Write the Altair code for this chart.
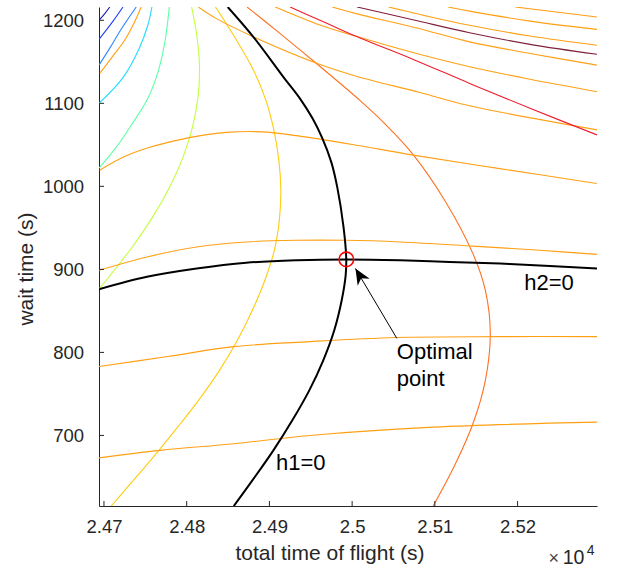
import altair as alt
import pandas as pd

# ---------------- axis ranges / ticks ----------------
x_domain = [24694, 25296]
y_domain = [615, 1216]
x_ticks = [24700, 24800, 24900, 25000, 25100, 25200]
y_ticks = [700, 800, 900, 1000, 1100, 1200]

# ---------------- h1 contour family (near vertical) ----------------
navy_x = [24707, 24701, 24694]
navy_y = [1216, 1208, 1200]
blue1_x = [24723, 24711, 24694]
blue1_y = [1216, 1199, 1177]
blue2_x = [24739, 24720, 24708, 24694]
blue2_y = [1216, 1188, 1168, 1146]
orangetl_x = [24745, 24737, 24725, 24710, 24695]
orangetl_y = [1216, 1198, 1176, 1156, 1136]
cyan_x = [24758, 24753, 24743, 24723, 24694]
cyan_y = [1216, 1194, 1167, 1131, 1100]
aqua_x = [24779, 24774, 24766, 24754, 24734, 24714, 24694]
aqua_y = [1216, 1176, 1140, 1108, 1075, 1046, 1022]
ygreen_x = [24806, 24812.5, 24815.5, 24813.7, 24807, 24795.6, 24779.3, 24758.8, 24734, 24705.7, 24694.4]
ygreen_y = [1216, 1179.9, 1143.7, 1107.5, 1071.4, 1035.2, 999, 962.9, 926.7, 890.5, 876.6]
gold_x = [24834.8, 24860.1, 24880.6, 24895.7, 24905.4, 24911.4, 24913.8, 24912, 24906, 24894.5,
          24879.4, 24861.3, 24839.6, 24814.3, 24785.9, 24756.3, 24725, 24708.7]
gold_y = [1216, 1176.3, 1140.1, 1103.9, 1067.8, 1031.6, 995.4, 959.3, 923.1, 886.9,
          850.8, 814.6, 778.4, 742.3, 706.1, 669.9, 633.7, 614.9]
ored_x = [24873, 24913, 24958, 25010, 25040, 25074, 25112, 25146, 25161, 25167, 25161, 25146, 25124, 25098]
ored_y = [1216, 1184, 1147, 1103, 1075, 1038, 983, 919, 875, 823, 766, 714, 664, 615]
h1_x = [24849.6, 24881, 24917.2, 24937.4, 24951.9, 24963.9, 24974.8, 24982, 24989.6, 24992.8,
        24992.2, 24987.4, 24978.4, 24965.1, 24948.2, 24927.7, 24904.8, 24879.4, 24856.9]
h1_y = [1216, 1179.5, 1131.3, 1105.1, 1082.2, 1058.1, 1029.2, 999, 950.8, 914.7,
        893, 862.8, 826.7, 790.5, 754.3, 718.2, 682, 645.8, 614.9]

# ---------------- h2 contour family (near horizontal) ----------------
h2_x = [24694, 24752, 24812, 24872, 24933, 24993, 25058, 25118, 25179, 25239, 25296]
h2_y = [876, 891, 901, 908, 911, 912, 911, 909, 907, 904, 901]
o900_x = [24694, 24752, 24812, 24872, 24933, 24992, 25058, 25146, 25227, 25296]
o900_y = [899, 915, 927, 933, 935, 935, 933, 928, 923, 918]
o1020_x = [24694.8, 24726.2, 24756.3, 24786.5, 24816.6, 24852.8, 24891.5, 24932.5, 24961.5,
           25009.8, 25074, 25178.6, 25295.7]
o1020_y = [1019.5, 1036.4, 1047.3, 1055.1, 1061.1, 1065.3, 1065.6, 1061.1, 1056.9,
           1048.8, 1037.6, 1021.3, 1003.5]
o783_x = [24694, 24777, 24857, 24949, 25054, 25179, 25296]
o783_y = [783, 795, 807, 813, 818, 819, 819]
o673_x = [24694, 24768, 24857, 24949, 25098, 25296]
o673_y = [673, 682, 690, 700, 710, 716]
o1_x = [24814, 24836, 24881, 24958, 25004, 25082, 25142, 25296]
o1_y = [1216, 1202, 1180, 1148, 1133, 1113, 1097, 1068]
o2_x = [24907, 24962, 25004, 25070, 25142, 25215, 25296]
o2_y = [1216, 1194, 1181, 1162, 1144, 1129, 1114]
red_x = [24925, 24968, 25004, 25076, 25142, 25215, 25296]
red_y = [1216, 1197, 1181, 1152, 1124, 1094, 1062]
o3_x = [24976, 25005, 25077, 25142, 25215, 25296]
o3_y = [1216, 1208, 1191, 1174, 1160, 1146]
dred_x = [25006, 25076, 25142, 25215, 25296]
dred_y = [1216, 1200, 1185, 1171, 1159]
o4_x = [25044, 25095, 25142, 25215, 25296]
o4_y = [1216, 1204, 1194, 1181, 1170]
o5_x = [25116, 25142, 25215, 25296]
o5_y = [1216, 1211, 1199, 1189]
o6_x = [25197, 25296]
o6_y = [1216, 1204]

# ---------------- annotations ----------------
opt_x = [24993]
opt_y = [912]
arrow_tail = [25054, 817]
arrow_tip = [25004, 901]
label_text = ["h1=0", "h2=0", "Optimal", "point"]
label_x = [24908, 25208, 25054, 25054]
label_y = [658, 875, 792.5, 760]

ORANGE = "#ffa014"
colored = [
    ("navy", navy_x, navy_y, "#1c1ca8"),
    ("blue1", blue1_x, blue1_y, "#1f3ff5"),
    ("blue2", blue2_x, blue2_y, "#2f86ff"),
    ("orangetl", orangetl_x, orangetl_y, ORANGE),
    ("cyan", cyan_x, cyan_y, "#22dcff"),
    ("aqua", aqua_x, aqua_y, "#5effa6"),
    ("ygreen", ygreen_x, ygreen_y, "#c2ff40"),
    ("gold", gold_x, gold_y, "#ffcc10"),
    ("ored", ored_x, ored_y, "#ff7020"),
    ("o900", o900_x, o900_y, ORANGE),
    ("o1020", o1020_x, o1020_y, ORANGE),
    ("o783", o783_x, o783_y, ORANGE),
    ("o673", o673_x, o673_y, ORANGE),
    ("o1", o1_x, o1_y, ORANGE),
    ("o2", o2_x, o2_y, ORANGE),
    ("red", red_x, red_y, "#ee1e2e"),
    ("o3", o3_x, o3_y, ORANGE),
    ("dred", dred_x, dred_y, "#80203a"),
    ("o4", o4_x, o4_y, ORANGE),
    ("o5", o5_x, o5_y, ORANGE),
    ("o6", o6_x, o6_y, ORANGE),
]
black = [("h1", h1_x, h1_y), ("h2", h2_x, h2_y)]


def table(specs):
    rows = []
    for spec in specs:
        name, xs_, ys_ = spec[0], spec[1], spec[2]
        for i, (xv, yv) in enumerate(zip(xs_, ys_)):
            rows.append({"line": name, "x": xv, "y": yv, "i": i})
    return pd.DataFrame(rows)


TXT = "#262626"
W, H = 498, 499

xscale = alt.Scale(domain=x_domain, nice=False, zero=False)
yscale = alt.Scale(domain=y_domain, nice=False, zero=False)

x_axis = alt.Axis(
    values=x_ticks, labelExpr="toString(round(datum.value/100)/100)",
    title="total time of flight (s)", ticks=False, tickSize=0, grid=False,
    labelPadding=26, labelBaseline="alphabetic", labelFlush=False, labelOverlap=False,
    titleX=230.5, titleY=53.3, titleAlign="center", titleBaseline="alphabetic",
)
y_axis = alt.Axis(
    values=y_ticks, format="d", title="wait time (s)", ticks=False, tickSize=0, grid=False,
    labelPadding=15.4, labelAlign="right", labelBaseline="middle", labelFlush=False,
    labelOverlap=False, titleX=-66.5, titleY=261.5, titleAngle=270,
    titleAlign="center", titleBaseline="alphabetic",
)

col_layer = alt.Chart(table(colored)).mark_line(
    clip=True, strokeWidth=1.1, interpolate="catmull-rom"
).encode(
    x=alt.X("x:Q", scale=xscale, axis=x_axis),
    y=alt.Y("y:Q", scale=yscale, axis=y_axis),
    color=alt.Color("line:N", legend=None,
                    scale=alt.Scale(domain=[c[0] for c in colored], range=[c[3] for c in colored])),
    order="i:Q",
)

blk_layer = alt.Chart(table(black)).mark_line(
    clip=True, strokeWidth=2, color="black", interpolate="catmull-rom"
).encode(x="x:Q", y="y:Q", detail="line:N", order="i:Q")

xt = alt.Chart(pd.DataFrame({"x": x_ticks})).mark_rule(color=TXT, strokeWidth=1).encode(
    x="x:Q", y=alt.value(H), y2=alt.value(H - 5))
yt = alt.Chart(pd.DataFrame({"y": y_ticks})).mark_rule(color=TXT, strokeWidth=1).encode(
    y="y:Q", x=alt.value(0), x2=alt.value(5))

arrow_df = pd.DataFrame({"x": [arrow_tail[0]], "y": [arrow_tail[1]],
                         "x2": [arrow_tip[0]], "y2": [arrow_tip[1]]})
arrow_line = alt.Chart(arrow_df).mark_rule(color="black", strokeWidth=1).encode(
    x="x:Q", y="y:Q", x2="x2:Q", y2="y2:Q")
arrow_head = alt.Chart(pd.DataFrame({"x": [arrow_tip[0]], "y": [arrow_tip[1]]})).mark_point(
    shape="M0,0L-0.875,2L0,1.4L0.875,2Z", filled=True, color="black", size=256,
    angle=329, strokeWidth=0, opacity=1,
).encode(x="x:Q", y="y:Q")

circle = alt.Chart(pd.DataFrame({"x": opt_x, "y": opt_y})).mark_point(
    shape="circle", filled=False, color="red", strokeWidth=1.6, size=210, opacity=1
).encode(x="x:Q", y="y:Q")

labels = alt.Chart(pd.DataFrame({"x": label_x, "y": label_y, "t": label_text})).mark_text(
    align="left", baseline="alphabetic", fontSize=22, color="black"
).encode(x="x:Q", y="y:Q", text="t:N")

exp_times = alt.Chart(pd.DataFrame({"t": ["×"]})).mark_text(
    align="center", baseline="alphabetic", fontSize=18, color="#444444"
).encode(x=alt.value(454.8), y=alt.value(557), text="t:N")
exp_base = alt.Chart(pd.DataFrame({"t": ["10"]})).mark_text(
    align="left", baseline="alphabetic", fontSize=19.5, color=TXT
).encode(x=alt.value(463.7), y=alt.value(557), text="t:N")
exp_pow = alt.Chart(pd.DataFrame({"t": ["4"]})).mark_text(
    align="left", baseline="alphabetic", fontSize=14, color=TXT
).encode(x=alt.value(487.7), y=alt.value(548), text="t:N")

chart = alt.layer(
    col_layer, blk_layer, xt, yt, arrow_line, arrow_head, circle, labels,
    exp_times, exp_base, exp_pow
).properties(
    width=W, height=H,
    autosize=alt.AutoSizeParams(type="none"),
    padding={"left": 99, "top": 7, "right": 20, "bottom": 65},
).configure(
    font="Liberation Sans"
).configure_view(
    stroke=None
).configure_axis(
    domainColor=TXT, domainWidth=1, labelColor=TXT, titleColor=TXT,
    labelFontSize=18.5, titleFontSize=21, titleFontWeight="normal",
    labelFont="Liberation Sans", titleFont="Liberation Sans",
)

chart.save("out.html", embed_options={"renderer": "svg", "actions": False})
